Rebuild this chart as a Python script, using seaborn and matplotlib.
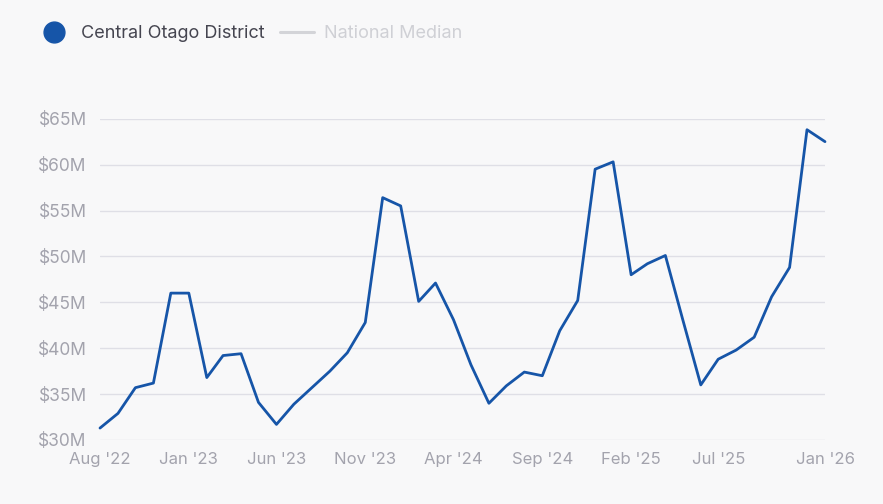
import matplotlib
matplotlib.use("Agg")
import matplotlib.pyplot as plt
import seaborn as sns
import pandas as pd
from matplotlib.lines import Line2D

series_name = "Central Otago District"
reference_name = "National Median"
start_month = "2022-08-01"
values_m = [31.3, 32.9, 35.7, 36.2, 46.0, 46.0, 36.8, 39.2, 39.4, 34.1,
            31.7, 33.9, 35.7, 37.5, 39.5, 42.8, 56.4, 55.5, 45.1, 47.1,
            43.1, 38.2, 34.0, 35.9, 37.4, 37.0, 41.9, 45.2, 59.5, 60.3,
            48.0, 49.2, 50.1, 43.1, 36.0, 38.8, 39.8, 41.2, 45.6, 48.8,
            63.8, 62.5]
tick_months = ["2022-08", "2023-01", "2023-06", "2023-11", "2024-04",
               "2024-09", "2025-02", "2025-07", "2026-01"]
y_ticks = [30, 35, 40, 45, 50, 55, 60, 65]

BG = "#f8f8f9"
BLUE = "#1655a8"
TICK = "#a3a3ad"
GRID = "#dfdfe6"

months = pd.date_range(start_month, periods=len(values_m), freq="MS")
df = pd.DataFrame({"month": months, "value": values_m})

sns.set_theme(style="white")
plt.rcParams["font.family"] = ["Inter", "DejaVu Sans"]

fig = plt.figure(figsize=(8.83, 5.04), dpi=100, facecolor=BG)
ax = fig.add_axes([100/883, 1-440/504, 725/883, (440-118.7)/504])
ax.set_facecolor(BG)

sns.lineplot(data=df, x="month", y="value", ax=ax, color=BLUE,
             linewidth=2.0, clip_on=False)

ax.set_xlim(months[0], months[-1])
ax.set_ylim(30, 65)
ax.set_yticks(y_ticks)
ax.set_yticklabels([f"${v}M" for v in y_ticks])
tick_dates = pd.to_datetime(tick_months)
ax.set_xticks(tick_dates)
ax.set_xticklabels([d.strftime("%b '%y") for d in tick_dates])
ax.tick_params(axis="both", length=0, labelcolor=TICK)
ax.tick_params(axis="y", pad=9.5, labelsize=12.5)
ax.tick_params(axis="x", pad=8.5, labelsize=12)
ax.grid(axis="y", color=GRID, linewidth=1.0)
ax.grid(axis="x", visible=False)
ax.set_axisbelow(True)
for s in ax.spines.values():
    s.set_visible(False)
ax.set_xlabel("")
ax.set_ylabel("")

handles = [
    Line2D([], [], marker="o", linestyle="none", markersize=15,
           markerfacecolor=BLUE, markeredgecolor=BLUE),
    Line2D([], [], color="#d3d4d8", linewidth=2.2),
]
leg = fig.legend(handles, [series_name, reference_name], loc="upper left",
                 bbox_to_anchor=(21/883, 1-9/504), ncol=2, frameon=False,
                 fontsize=13, handlelength=1.9, handletextpad=0.55,
                 columnspacing=0.8)
leg.get_texts()[0].set_color("#454550")
leg.get_texts()[1].set_color("#cfd0d5")

fig.savefig("out.png", dpi=100, facecolor=BG)
